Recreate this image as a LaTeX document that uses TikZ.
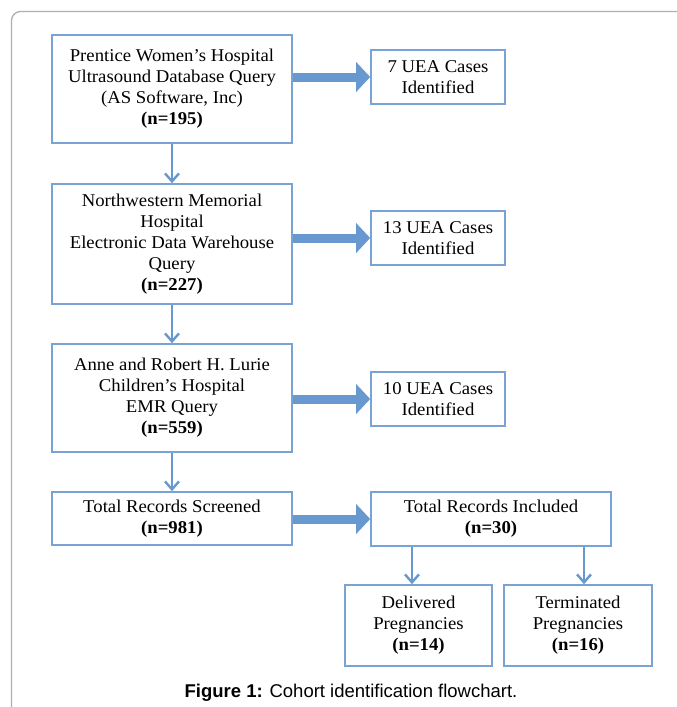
\documentclass[tikz,border=0pt]{standalone}
\usepackage{fontspec}
\setmainfont{Liberation Serif}[FakeStretch=1.04]
\newfontfamily\capfont{Liberation Sans}
\usetikzlibrary{arrows.meta}
\definecolor{boxc}{RGB}{120,163,212}
\definecolor{arrc}{RGB}{104,152,208}
\definecolor{framec}{RGB}{175,175,175}
\begin{document}
\begin{tikzpicture}[x=1pt,y=-1pt,
  box/.style={draw=boxc, line width=1.6pt, fill=white, align=center, inner sep=0pt,
    font=\fontsize{18}{21}\selectfont},
  fat/.style={draw=arrc, line width=9pt, -{Triangle[width=29pt,length=14pt,fill=arrc]}},
  thinarr/.style={draw=arrc, line width=2.4pt, -{Straight Barb[length=8pt,width=14pt]}}]
\useasboundingbox (0,0) rectangle (677,707);
\fill[white] (0,0) rectangle (677,707);
\draw[framec, line width=1.3pt, rounded corners=9pt] (11.5,707) -- (11.5,11.5) -- (677,11.5);

\node[box, minimum width=240pt, minimum height=108pt] (b1) at (172,89)
  {Prentice Women’s Hospital\\Ultrasound Database Query\\(AS Software, Inc)\\\textbf{(n=195)}};
\node[box, minimum width=240pt, minimum height=120pt] (b2) at (172,244)
  {Northwestern Memorial\\Hospital\\Electronic Data Warehouse\\Query\\\textbf{(n=227)}};
\node[box, minimum width=240pt, minimum height=108pt] (b3) at (172,398)
  {Anne and Robert H. Lurie\\Children’s Hospital\\EMR Query\\\textbf{(n=559)}};
\node[box, minimum width=240pt, minimum height=53pt] (b4) at (172,518.5)
  {Total Records Screened\\\textbf{(n=981)}};

\node[box, minimum width=134pt, minimum height=54pt] (u7) at (438,77)
  {7 UEA Cases\\Identified};
\node[box, minimum width=134pt, minimum height=54pt] (u13) at (438,238)
  {13 UEA Cases\\Identified};
\node[box, minimum width=134pt, minimum height=54pt] (u10) at (438,399)
  {10 UEA Cases\\Identified};
\node[box, minimum width=240pt, minimum height=54pt] (inc) at (491,519)
  {Total Records Included\\\textbf{(n=30)}};
\node[box, minimum width=147pt, minimum height=81pt] (del) at (418.5,625.5)
  {Delivered\\Pregnancies\\\textbf{(n=14)}};
\node[box, minimum width=148pt, minimum height=81pt] (ter) at (578,625.5)
  {Terminated\\Pregnancies\\\textbf{(n=16)}};

\draw[fat] (b1.east |- u7.west) -- (u7.west);
\draw[fat] (b2.east |- u13.west) -- (u13.west);
\draw[fat] (b3.east |- u10.west) -- (u10.west);
\draw[fat] (b4.east |- inc.west) -- (inc.west);

\draw[thinarr] (b1.south) -- (b2.north);
\draw[thinarr] (b2.south) -- (b3.north);
\draw[thinarr] (b3.south) -- (b4.north);
\coordinate (d1) at ([xshift=-6.5pt]del.north);
\coordinate (t1) at ([xshift=6pt]ter.north);
\draw[thinarr] (inc.south -| d1) -- (d1);
\draw[thinarr] (inc.south -| t1) -- (t1);

\node[anchor=base, inner sep=0pt, font=\capfont\fontsize{18.5}{22}\selectfont] (cap) at (351,697)
  {\textbf{Figure 1:} Cohort identification flowchart.};
\end{tikzpicture}
\end{document}
